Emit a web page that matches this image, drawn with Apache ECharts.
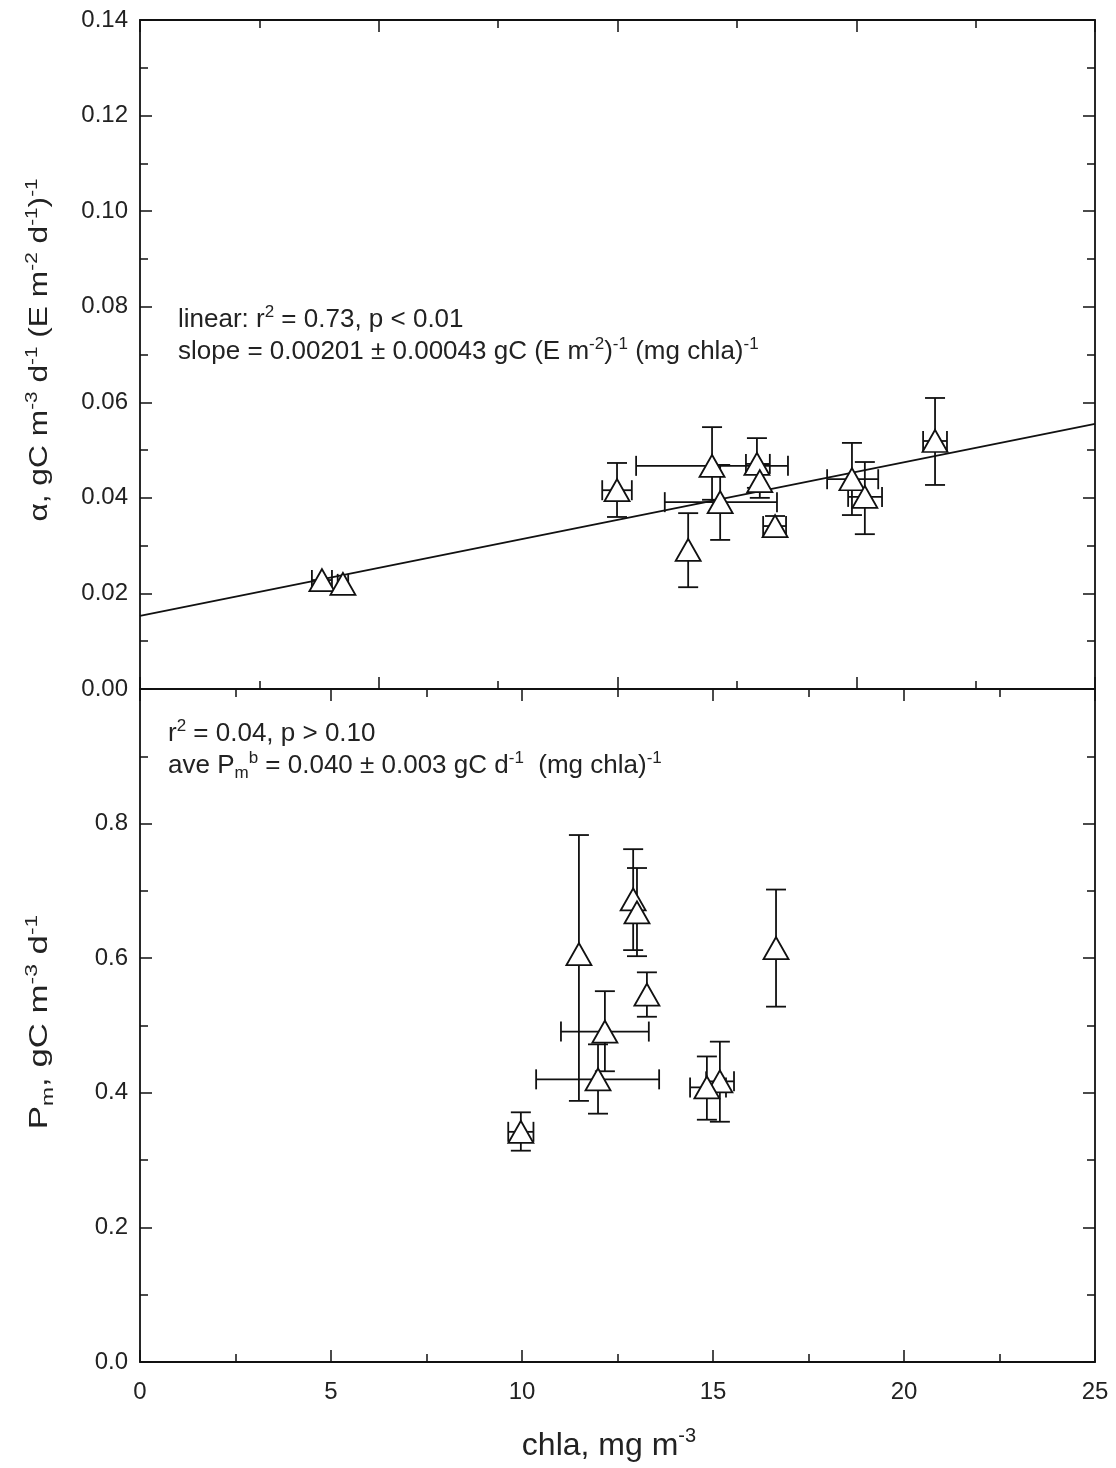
<!DOCTYPE html>
<html>
<head>
<meta charset="utf-8">
<script src="https://cdn.jsdelivr.net/npm/echarts@6/dist/echarts.min.js"></script>
<style>
  html, body { margin: 0; padding: 0; background: #fff; }
  #chart { width: 1116px; height: 1468px; }
</style>
</head>
<body>
<div id="chart"></div>
<script>
// top panel: alpha vs chla (x axis 0-20)
var topX   = [3.81, 4.25, 9.99, 11.48, 11.98, 12.15, 12.92, 12.98, 13.30, 14.91, 15.18, 16.65];
var topY   = [0.0228, 0.0220, 0.0416, 0.0291, 0.0467, 0.0391, 0.0471, 0.0435, 0.0341, 0.0439, 0.0402, 0.0519];
var topXLo = [3.60, 4.14, 9.68, 11.48, 10.39, 10.99, 12.69, 12.98, 13.05, 14.39, 14.83, 16.40];
var topXHi = [4.02, 4.36, 10.30, 11.48, 13.57, 13.34, 13.19, 12.98, 13.53, 15.46, 15.54, 16.90];
var topYLo = [0.0228, 0.0220, 0.0360, 0.0213, 0.0396, 0.0312, 0.0421, 0.0400, 0.0322, 0.0364, 0.0324, 0.0427];
var topYHi = [0.0228, 0.0220, 0.0473, 0.0368, 0.0548, 0.0469, 0.0525, 0.0469, 0.0362, 0.0515, 0.0475, 0.0609];
// linear fit, end points
var fitX = [0, 20];
var fitY = [0.0153, 0.0555];

// bottom panel: Pm vs chla (x axis 0-25)
var botX   = [11.49, 12.91, 13.01, 13.27, 12.17, 11.99, 16.65, 9.97, 15.18, 14.84];
var botY   = [0.606, 0.6875, 0.668, 0.546, 0.491, 0.420, 0.615, 0.342, 0.417, 0.408];
var botXLo = [11.49, 12.91, 13.01, 13.27, 11.02, 10.37, 16.65, 9.64, 14.82, 14.40];
var botXHi = [11.49, 12.91, 13.01, 13.27, 13.32, 13.59, 16.65, 10.30, 15.55, 15.34];
var botYLo = [0.388, 0.612, 0.603, 0.513, 0.432, 0.369, 0.528, 0.314, 0.357, 0.360];
var botYHi = [0.783, 0.762, 0.734, 0.579, 0.551, 0.472, 0.702, 0.371, 0.476, 0.454];

// tick labels
var topYLabels = ['0.00', '0.02', '0.04', '0.06', '0.08', '0.10', '0.12', '0.14'];
var botYLabels = ['0.0', '0.2', '0.4', '0.6', '0.8'];
var botXLabels = ['0', '5', '10', '15', '20', '25'];

var FONT = '"Liberation Sans", Arial, sans-serif';
var INK = '#111';
var TXT = '#222';

function pack(xs, ys, xlo, xhi, ylo, yhi) {
  var out = [];
  for (var i = 0; i < xs.length; i++) out.push([xs[i], ys[i], xlo[i], xhi[i], ylo[i], yhi[i]]);
  return out;
}
function pairs(xs, ys) {
  var out = [];
  for (var i = 0; i < xs.length; i++) out.push([xs[i], ys[i]]);
  return out;
}

// error bars with caps
function errRender(params, api) {
  var c = api.coord([api.value(0), api.value(1)]);
  var cap = 10;
  var kids = [];
  var st = { stroke: INK, lineWidth: 1.8 };
  var lo = api.coord([api.value(0), api.value(4)]);
  var hi = api.coord([api.value(0), api.value(5)]);
  if (Math.abs(lo[1] - hi[1]) > 1) {
    kids.push({ type: 'line', shape: { x1: c[0], y1: lo[1], x2: c[0], y2: hi[1] }, style: st });
    kids.push({ type: 'line', shape: { x1: c[0] - cap, y1: lo[1], x2: c[0] + cap, y2: lo[1] }, style: st });
    kids.push({ type: 'line', shape: { x1: c[0] - cap, y1: hi[1], x2: c[0] + cap, y2: hi[1] }, style: st });
  }
  var l = api.coord([api.value(2), api.value(1)]);
  var r = api.coord([api.value(3), api.value(1)]);
  if (Math.abs(r[0] - l[0]) > 1) {
    kids.push({ type: 'line', shape: { x1: l[0], y1: c[1], x2: r[0], y2: c[1] }, style: st });
    kids.push({ type: 'line', shape: { x1: l[0], y1: c[1] - cap, x2: l[0], y2: c[1] + cap }, style: st });
    kids.push({ type: 'line', shape: { x1: r[0], y1: c[1] - cap, x2: r[0], y2: c[1] + cap }, style: st });
  }
  return { type: 'group', children: kids };
}

function xAxisDef(grid, min, max, pos, labels) {
  return {
    type: 'value', gridIndex: grid, min: min, max: max, interval: 5, position: pos,
    axisLine: { show: true, onZero: false, lineStyle: { color: INK, width: 1.8 } },
    axisTick: { show: true, inside: true, length: 12, lineStyle: { color: INK, width: 1.5 } },
    minorTick: { show: true, splitNumber: 2, length: 8, lineStyle: { color: INK, width: 1.5 } },
    splitLine: { show: false },
    axisLabel: labels ? {
      show: true, margin: 18, fontSize: 24, color: TXT, fontFamily: FONT,
      formatter: function (v) { return labels[Math.round(v / 5)]; }
    } : { show: false }
  };
}
function yAxisDef(grid, min, max, step, pos, labels) {
  return {
    type: 'value', gridIndex: grid, min: min, max: max, interval: step, position: pos,
    axisLine: { show: true, onZero: false, lineStyle: { color: INK, width: 1.8 } },
    axisTick: { show: true, inside: true, length: 12, lineStyle: { color: INK, width: 1.5 } },
    minorTick: { show: true, splitNumber: 2, length: 8, lineStyle: { color: INK, width: 1.5 } },
    splitLine: { show: false },
    axisLabel: labels ? {
      show: true, margin: 12, fontSize: 24, color: TXT, fontFamily: FONT,
      formatter: function (v) { var s = labels[Math.round(v / step)]; return s === undefined ? '' : s; }
    } : { show: false }
  };
}

function richSet(size) {
  return {
    s: { fontSize: size, lineHeight: size, verticalAlign: 'top', fontFamily: FONT, fill: TXT },
    b: { fontSize: size, lineHeight: size, verticalAlign: 'bottom', fontFamily: FONT, fill: TXT }
  };
}

function title(x, y, rot, stretch, size, text) {
  return {
    type: 'text', x: x, y: y, rotation: rot, scaleX: stretch,
    style: {
      text: text, fontSize: size, lineHeight: Math.round(size * 1.25), fontFamily: FONT, fill: TXT,
      align: 'center', verticalAlign: 'middle',
      rich: richSet(Math.round(size * 0.64))
    }
  };
}
function note(x, y, text) {
  return {
    type: 'text', x: x, y: y,
    style: {
      text: text, fontSize: 26, lineHeight: 32, fontFamily: FONT, fill: TXT,
      align: 'left', verticalAlign: 'middle',
      rich: richSet(17)
    }
  };
}

var chart = echarts.init(document.getElementById('chart'));
var option = {
  backgroundColor: '#fff',
  animation: false,
  grid: [
    { left: 140, right: 21, top: 20, height: 669 },
    { left: 140, right: 21, top: 689, height: 673 }
  ],
  xAxis: [
    xAxisDef(0, 0, 20, 'bottom', null),
    xAxisDef(0, 0, 20, 'top', null),
    xAxisDef(1, 0, 25, 'bottom', botXLabels),
    xAxisDef(1, 0, 25, 'top', null)
  ],
  yAxis: [
    yAxisDef(0, 0, 0.14, 0.02, 'left', topYLabels),
    yAxisDef(0, 0, 0.14, 0.02, 'right', null),
    yAxisDef(1, 0, 1.0, 0.2, 'left', botYLabels),
    yAxisDef(1, 0, 1.0, 0.2, 'right', null)
  ],
  series: [
    {
      type: 'line', xAxisIndex: 0, yAxisIndex: 0, data: pairs(fitX, fitY),
      showSymbol: false, lineStyle: { color: INK, width: 1.8 }, z: 2
    },
    {
      type: 'custom', xAxisIndex: 0, yAxisIndex: 0, renderItem: errRender,
      data: pack(topX, topY, topXLo, topXHi, topYLo, topYHi), encode: { x: 0, y: 1 }, z: 3
    },
    {
      type: 'scatter', xAxisIndex: 0, yAxisIndex: 0, data: pairs(topX, topY),
      symbol: 'triangle', symbolSize: [25, 22],
      itemStyle: { color: '#fff', opacity: 1, borderColor: INK, borderWidth: 1.8 }, z: 4
    },
    {
      type: 'custom', xAxisIndex: 2, yAxisIndex: 2, renderItem: errRender,
      data: pack(botX, botY, botXLo, botXHi, botYLo, botYHi), encode: { x: 0, y: 1 }, z: 3
    },
    {
      type: 'scatter', xAxisIndex: 2, yAxisIndex: 2, data: pairs(botX, botY),
      symbol: 'triangle', symbolSize: [25, 22],
      itemStyle: { color: '#fff', opacity: 1, borderColor: INK, borderWidth: 1.8 }, z: 4
    }
  ],
  graphic: [
    title(40, 350, Math.PI / 2, 1.22, 26, '\u03b1, gC m{s|-3} d{s|-1} (E m{s|-2} d{s|-1}){s|-1}'),
    title(40, 1022, Math.PI / 2, 1.34, 26, 'P{b|m}, gC m{s|-3} d{s|-1}'),
    title(609, 1446, 0, 1, 32, 'chla, mg m{s|-3}'),
    note(178, 320, 'linear: r{s|2} = 0.73, p < 0.01'),
    note(178, 352, 'slope = 0.00201 \u00b1 0.00043 gC (E m{s|-2}){s|-1} (mg chla){s|-1}'),
    note(168, 734, 'r{s|2} = 0.04, p > 0.10'),
    note(168, 766, 'ave P{b|m}{s|b} = 0.040 \u00b1 0.003 gC d{s|-1}  (mg chla){s|-1}')
  ]
};
chart.setOption(option);
window.addEventListener('resize', function () { chart.resize(); });
</script>
</body>
</html>
